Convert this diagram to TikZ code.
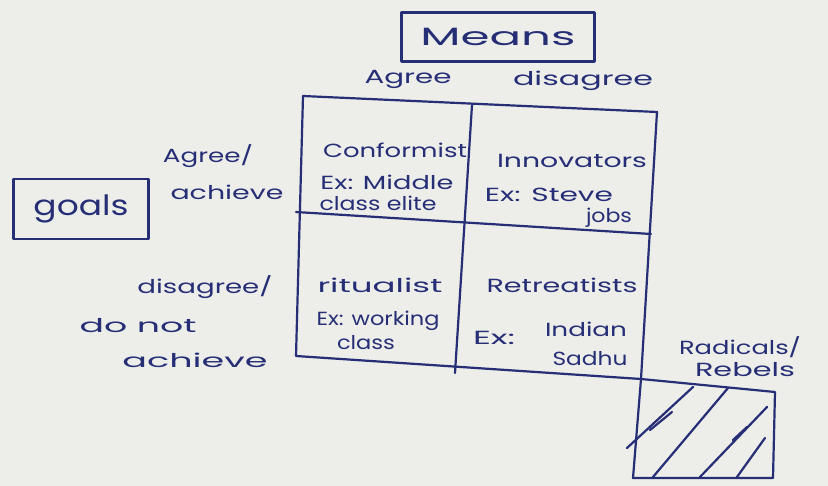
\documentclass[tikz,border=0pt]{standalone}
\usepackage{fontspec}
\setmainfont{Poppins}
\definecolor{inkc}{RGB}{38,46,118}
\definecolor{paper}{RGB}{237,237,234}
\newcommand\hw[2]{\resizebox{#1pt}{\height}{#2}}
\begin{document}
\begin{tikzpicture}[x=1pt,y=-1pt,
  ink/.style={draw=inkc, line width=2.2pt, line cap=round, line join=round},
  txt/.style={text=inkc, inner sep=0pt, anchor=base, font=\fontsize{19}{22}\selectfont},
  boxed/.style={ink, text=inkc, inner sep=0pt}]
\fill[paper] (0,0) rectangle (828,486);
\useasboundingbox (0,0) rectangle (828,486);

% boxes with titles
\node[boxed, minimum width=193pt, minimum height=49pt, font=\fontsize{25}{28}\selectfont] (means) at (498,37) {\hw{155}{Means}};
\node[boxed, minimum width=135pt, minimum height=60pt, font=\fontsize{28}{30}\selectfont] (goals) at (81,209) {\hw{95}{goals}};

% grid corners
\coordinate (tl) at (303,96);
\coordinate (tm) at (472,105);
\coordinate (tr) at (657,112);
\coordinate (ml) at (296,212);
\coordinate (mr) at (651,234);
\coordinate (bl) at (296,356);
\coordinate (bm) at (455,373);
\coordinate (br) at (641,379);
% hatched box corners
\coordinate (htr) at (775,392);
\coordinate (hbr) at (773,478);
\coordinate (hbl) at (633,478);

\draw[ink] (tl) -- (tr) -- (br) -- (hbl);
\draw[ink] (tl) -- (bl) -- (br);
\draw[ink] (tm) -- (bm);
\draw[ink] (ml) -- (mr);
\draw[ink] (br) -- (htr) -- (hbr) -- (hbl);

% hatch strokes
\draw[ink] (627,448) -- (693,387);
\draw[ink] (650,430) -- (672,412);
\draw[ink] (653,477) -- (728,388);
\draw[ink] (700,477) -- (767,407);
\draw[ink] (733,440) -- (747,427);
\draw[ink] (737,477) -- (765,438);

% column headers
\node[txt] (hagree) at (408,84) {\hw{87}{Agree}};
\node[txt] (hdisagree) at (583,86) {\hw{140}{disagree}};

% cells
\node[txt] (c1) at (395,158) {\hw{144}{Conformist}};
\node[txt] (c2) at (387,190) {\hw{133}{Ex: Middle}};
\node[txt] (c3) at (378,211) {\hw{117}{class elite}};

\node[txt] (i1) at (572,168) {\hw{150}{Innovators}};
\node[txt] (i2) at (549,202) {\hw{128}{Ex: Steve}};
\node[txt] (i3) at (609,223) {\hw{46}{jobs}};

\node[txt] (r1) at (380,293) {\hw{125}{ritualist}};
\node[txt] (r2) at (378,326) {\hw{123}{Ex: working}};
\node[txt] (r3) at (366,350) {\hw{58}{class}};

\node[txt] (t1) at (562,293) {\hw{151}{Retreatists}};
\node[txt] (t2) at (494,345) {\hw{42}{Ex:}};
\node[txt] (t3) at (586,337) {\hw{82}{Indian}};
\node[txt] (t4) at (590,366) {\hw{75}{Sadhu}};

% row labels
\node[txt] (a1) at (208,163) {\hw{90}{Agree/}};
\node[txt] (a2) at (227,200) {\hw{113}{achieve}};
\node[txt] (d1) at (205,294) {\hw{135}{disagree/}};
\node[txt] (d2) at (138,333) {\hw{117}{do not}};
\node[txt] (d3) at (195,368) {\hw{145}{achieve}};

% radicals
\node[txt] (rad1) at (740,355) {\hw{122}{Radicals/}};
\node[txt] (rad2) at (745,377) {\hw{100}{Rebels}};
\end{tikzpicture}
\end{document}
